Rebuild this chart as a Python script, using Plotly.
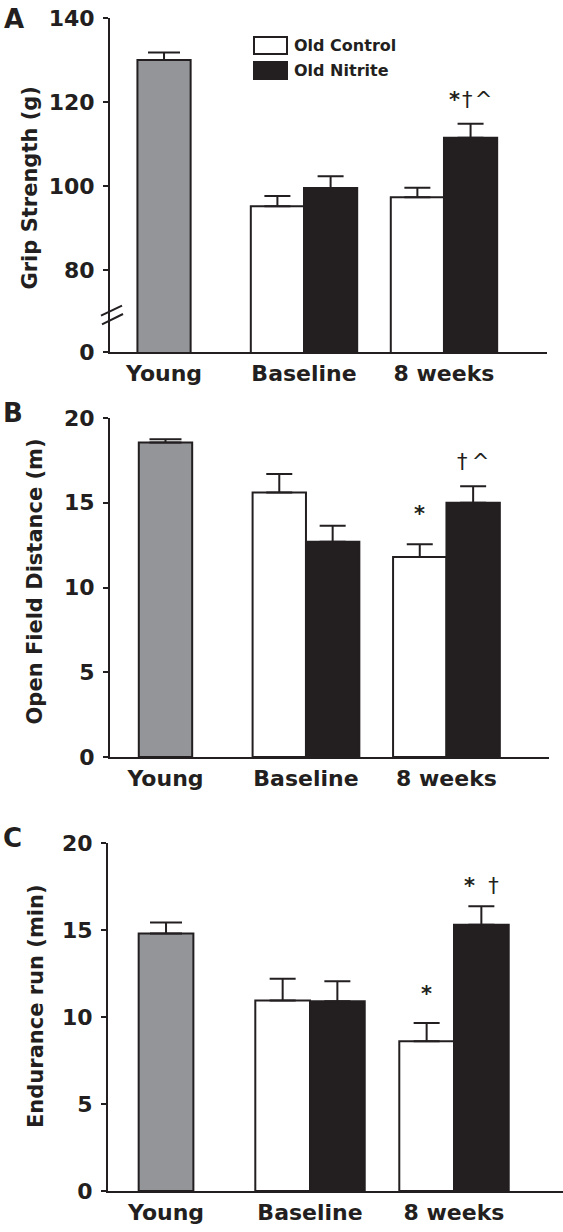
import plotly.graph_objects as go

# ---------------- data ----------------
categories = ["Young", "Baseline", "8 weeks"]
groups = ["Baseline", "8 weeks"]

grip_young = [130.0]
grip_young_err = [1.8]
grip_control = [95.2, 97.3]
grip_control_err = [2.4, 2.3]
grip_nitrite = [99.5, 111.5]
grip_nitrite_err = [2.8, 3.3]
grip_ticks = [60.48, 80, 100, 120, 140]
grip_ticktext = ["0", "80", "100", "120", "140"]

dist_young = [18.55]
dist_young_err = [0.2]
dist_control = [15.6, 11.8]
dist_control_err = [1.1, 0.75]
dist_nitrite = [12.7, 15.0]
dist_nitrite_err = [0.95, 0.98]
dist_ticks = [0, 5, 10, 15, 20]

endur_young = [14.8]
endur_young_err = [0.63]
endur_control = [10.95, 8.6]
endur_control_err = [1.25, 1.05]
endur_nitrite = [10.9, 15.3]
endur_nitrite_err = [1.15, 1.07]
endur_ticks = [0, 5, 10, 15, 20]

sig_grip = {"nitrite_8w": "<b>*</b>\u200a†\u200a^"}
sig_dist = {"control_8w": "<b>*</b>", "nitrite_8w": "†\u2009^"}
sig_endur = {"control_8w": "<b>*</b>", "nitrite_8w": "<b>*</b>\u00a0\u00a0†"}

panel_letters = ["A", "B", "C"]
y_titles = ["Grip Strength (g)", "Open Field Distance (m)", "Endurance run (min)"]
legend_names = ["Old Control", "Old Nitrite"]

# ---------------- style ----------------
W, H = 563, 1232
INK = "#231f20"
GRAY = "#939598"
BW = 0.38  # bar width in category units
FONT = "DejaVu Sans"


def px(x):
    return x / W


def py(y):
    return 1 - y / H


fig = go.Figure()

panels = [
    dict(young=grip_young, young_err=grip_young_err, ctrl=grip_control, ctrl_err=grip_control_err,
         nit=grip_nitrite, nit_err=grip_nitrite_err, sig=sig_grip,
         xdom=(110, 547), ydom=(18, 352), xr=(-0.386, 2.736), yr=(60.48, 140),
         tickvals=grip_ticks, ticktext=grip_ticktext,
         sig_shift={"control_8w": 29, "nitrite_8w": 24}),
    dict(young=dist_young, young_err=dist_young_err, ctrl=dist_control, ctrl_err=dist_control_err,
         nit=dist_nitrite, nit_err=dist_nitrite_err, sig=sig_dist,
         xdom=(110, 549), ydom=(418, 757), xr=(-0.395, 2.73), yr=(0, 20),
         tickvals=dist_ticks, ticktext=[str(t) for t in dist_ticks],
         sig_shift={"control_8w": 30, "nitrite_8w": 24}),
    dict(young=endur_young, young_err=endur_young_err, ctrl=endur_control, ctrl_err=endur_control_err,
         nit=endur_nitrite, nit_err=endur_nitrite_err, sig=sig_endur,
         xdom=(108, 563), ydom=(843, 1191), xr=(-0.403, 2.757), yr=(0, 20),
         tickvals=endur_ticks, ticktext=[str(t) for t in endur_ticks],
         sig_shift={"control_8w": 29, "nitrite_8w": 20}),
]

annotations = []
shapes = []

for i, p in enumerate(panels):
    n = "" if i == 0 else str(i + 1)
    xa, ya = "x" + n, "y" + n
    err_style = dict(type="data", symmetric=False, thickness=2, color=INK)

    fig.add_trace(go.Bar(
        x=["Young"], y=p["young"], xaxis=xa, yaxis=ya, width=BW, offset=-BW / 2,
        marker=dict(color=GRAY, line=dict(color=INK, width=2)),
        error_y=dict(array=p["young_err"], arrayminus=[0], width=16, **err_style),
        name="Young", showlegend=False))
    fig.add_trace(go.Bar(
        x=groups, y=p["ctrl"], xaxis=xa, yaxis=ya, width=BW, offset=-BW,
        marker=dict(color="white", line=dict(color=INK, width=2)),
        error_y=dict(array=p["ctrl_err"], arrayminus=[0, 0], width=13, **err_style),
        name=legend_names[0], showlegend=False))
    fig.add_trace(go.Bar(
        x=groups, y=p["nit"], xaxis=xa, yaxis=ya, width=BW, offset=0,
        marker=dict(color=INK, line=dict(color=INK, width=2)),
        error_y=dict(array=p["nit_err"], arrayminus=[0, 0], width=13, **err_style),
        name=legend_names[1], showlegend=False))

    xkey = "xaxis" + n
    ykey = "yaxis" + n
    fig.update_layout(**{
        xkey: dict(domain=[px(p["xdom"][0]), px(p["xdom"][1])], anchor=ya,
                   type="category", categoryorder="array", categoryarray=categories,
                   range=list(p["xr"]), showline=True, linecolor=INK, linewidth=2,
                   ticks="", showgrid=False, zeroline=False, ticklabelstandoff=1,
                   automargin=False,
                   tickfont=dict(family=FONT, size=22, color=INK, weight="bold"),
                   fixedrange=True),
        ykey: dict(domain=[py(p["ydom"][1]), py(p["ydom"][0])], anchor=xa,
                   range=list(p["yr"]), tickvals=p["tickvals"], ticktext=p["ticktext"],
                   showline=True, linecolor=INK, linewidth=2, ticks="outside",
                   ticklen=5, tickwidth=2, tickcolor=INK, showgrid=False, zeroline=False,
                   ticklabelstandoff=4, automargin=False,
                   tickfont=dict(family=FONT, size=22, color=INK, weight="bold"),
                   fixedrange=True),
    })

    # significance marks
    for key, txt in p["sig"].items():
        if key.startswith("control"):
            xv, yv = 2 - BW / 2, p["ctrl"][1] + p["ctrl_err"][1]
        else:
            xv, yv = 2 + BW / 2, p["nit"][1] + p["nit_err"][1]
        annotations.append(dict(x=xv, y=yv, xref=xa, yref=ya, text=txt, showarrow=False,
                                yanchor="middle", yshift=p["sig_shift"][key],
                                font=dict(family=FONT, size=21, color=INK)))

# panel letters
for letter, (cx, cy) in zip(panel_letters, [(13.5, 19), (12.5, 412.5), (12.5, 837.5)]):
    annotations.append(dict(x=px(cx), y=py(cy), xref="paper", yref="paper", text=letter,
                            showarrow=False, xanchor="center", yanchor="middle",
                            font=dict(family=FONT, size=26, color=INK, weight="bold")))

# y-axis titles
for t, (cx, cy) in zip(y_titles, [(30, 188.5), (34, 581.5), (36, 1006)]):
    annotations.append(dict(x=px(cx), y=py(cy), xref="paper", yref="paper", text=t,
                            textangle=-90, showarrow=False, xanchor="center", yanchor="middle",
                            font=dict(family=FONT, size=21, color=INK, weight="bold")))

# legend
for k, (fill, ytop) in enumerate([("white", 37), (INK, 62)]):
    shapes.append(dict(type="rect", xref="paper", yref="paper",
                       x0=px(254), x1=px(287), y0=py(ytop + 17), y1=py(ytop),
                       fillcolor=fill, line=dict(color=INK, width=2)))
    annotations.append(dict(x=px(292), y=py(ytop + 8.5), xref="paper", yref="paper",
                            text=legend_names[k], showarrow=False, xanchor="left",
                            yanchor="middle",
                            font=dict(family=FONT, size=16, color=INK, weight="bold")))

# axis break marks on panel A
for (x0, x1, y0, y1) in [(-9, 12, -3.7, 6.3), (-8, 13, -12.3, -2)]:
    shapes.append(dict(type="line", xref="x domain", yref="y",
                       xsizemode="pixel", xanchor=0, ysizemode="pixel", yanchor=70,
                       x0=x0, x1=x1, y0=y0, y1=y1, line=dict(color=INK, width=2)))

fig.update_layout(
    width=W, height=H, margin=dict(l=0, r=0, t=0, b=0, pad=0, autoexpand=False),
    paper_bgcolor="white", plot_bgcolor="white",
    barmode="overlay", showlegend=False,
    annotations=annotations, shapes=shapes,
)

fig.write_html("out.html", config={"displayModeBar": False, "staticPlot": True},
               post_script="document.body.style.margin='0';document.body.style.overflow='hidden';")
